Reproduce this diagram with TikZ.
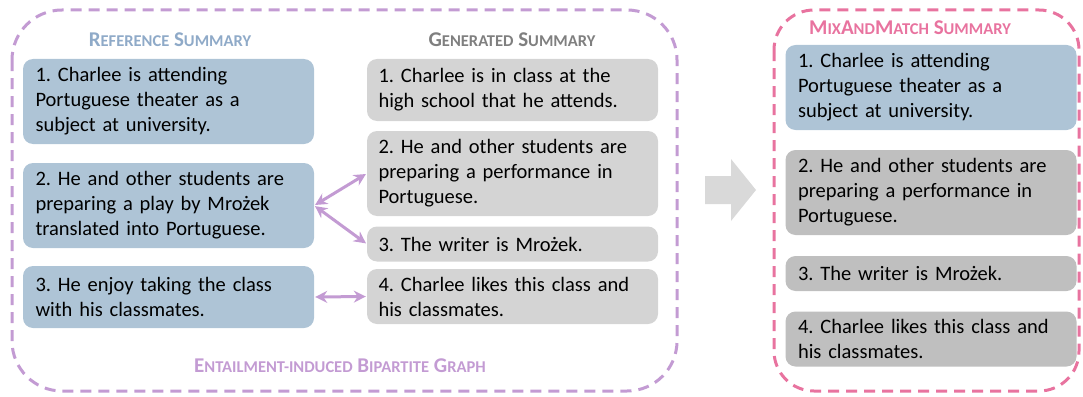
\documentclass[tikz,border=0pt]{standalone}
\usepackage{fontspec}
\setmainfont{Carlito}
\usepackage{tikz}
\usetikzlibrary{arrows.meta,calc}
\frenchspacing

\definecolor{refblue}{HTML}{AEC4D6}
\definecolor{refhead}{HTML}{8FAAC8}
\definecolor{genlight}{HTML}{D4D4D4}
\definecolor{gendark}{HTML}{BFBFBF}
\definecolor{genhead}{HTML}{7F7F7F}
\definecolor{graphpurple}{HTML}{C39BD3}
\definecolor{mixpink}{HTML}{E8739F}
\definecolor{bigarrow}{HTML}{D9D9D9}

% fake small caps: big first letter, rest in smaller capitals
\newcommand{\scw}[2]{{\fontsize{21}{21}\selectfont #1}{\fontsize{16.5}{21}\selectfont #2}}

\tikzset{
	sentbox/.style={rounded corners=10pt, inner sep=0pt, font=\fontsize{20.5}{25}\selectfont,
		text width=#1, align=left},
	refbox/.style={sentbox=266pt, fill=refblue, minimum width=291pt},
	genbox/.style={sentbox=268pt, fill=genlight, minimum width=291pt},
	mixbox/.style={sentbox=266pt, minimum width=291pt},
	heading/.style={font=\bfseries\fontsize{21}{21}\selectfont, inner sep=0pt},
	frame/.style={line width=3pt, dash pattern=on 11pt off 7pt},
	link/.style={graphpurple, line width=3pt, {Stealth[length=12pt,width=12pt]}-{Stealth[length=12pt,width=12pt]}, shorten <=1pt, shorten >=1pt}
}

\begin{document}
\begin{tikzpicture}[x=1pt,y=-1pt]
	\useasboundingbox (0,0) rectangle (1083,396);
	
	% left frame
	\draw[frame, graphpurple, rounded corners=50pt] (12,10) rectangle (677,391);
	\node[heading, refhead] (refhead) at (170,40) {\scw{R}{EFERENCE} \scw{S}{UMMARY}};
	\node[heading, genhead] (genhead) at (512,40) {\scw{G}{ENERATED} \scw{S}{UMMARY}};
	\node[heading, graphpurple] (graphhead) at (340,366) {\scw{E}{NTAILMENT-INDUCED} \scw{B}{IPARTITE} \scw{G}{RAPH}};
	
	\node[refbox, minimum height=85pt] (ref1) at (168.5,101.5) {1. Charlee is attending\\Portuguese theater as a\\subject at university.};
	\node[refbox, minimum height=85pt] (ref2) at (168.5,205.5) {2. He and other students are\\preparing a play by Mrożek\\translated into Portuguese.};
	\node[refbox, minimum height=62pt] (ref3) at (168.5,297) {3. He enjoy taking the class\\with his classmates.};
	
	\node[genbox, minimum height=62pt] (gen1) at (512.5,90) {1. Charlee is in class at the\\high school that he attends.};
	\node[genbox, minimum height=85pt] (gen2) at (512.5,173.5) {2. He and other students are\\preparing a performance in\\Portuguese.};
	\node[genbox, minimum height=35pt] (gen3) at (512.5,244) {3. The writer is Mrożek.};
	\node[genbox, minimum height=55pt] (gen4) at (512.5,296.5) {4. Charlee likes this class and\\his classmates.};
	
	\draw[link] (ref2.east) -- (gen2.west);
	\draw[link] (ref2.east) -- (gen3.west);
	\draw[link] (ref3.east) -- (gen4.west);
	
	% big arrow
	\fill[bigarrow] (705,176) -- (731,176) -- (731,159) -- (756,190) -- (731,221) -- (731,204) -- (705,204) -- cycle;
	
	% right frame
	\draw[frame, mixpink, rounded corners=40pt] (774,10) rectangle (1079,391);
	\node[heading, mixpink] (mixhead) at (910,28) {\scw{M}{IX}\scw{A}{ND}\scw{M}{ATCH} \scw{S}{UMMARY}};
	
	\node[mixbox, fill=refblue, minimum height=85pt] (mix1) at (931,87.5) {1. Charlee is attending\\Portuguese theater as a\\subject at university.};
	\node[mixbox, fill=gendark, minimum height=85pt] (mix2) at (931,192.5) {2. He and other students are\\preparing a performance in\\Portuguese.};
	\node[mixbox, fill=gendark, minimum height=35pt] (mix3) at (931,273.5) {3. The writer is Mrożek.};
	\node[mixbox, fill=gendark, minimum height=55pt] (mix4) at (931,339) {4. Charlee likes this class and\\his classmates.};
	
\end{tikzpicture}
\end{document}
